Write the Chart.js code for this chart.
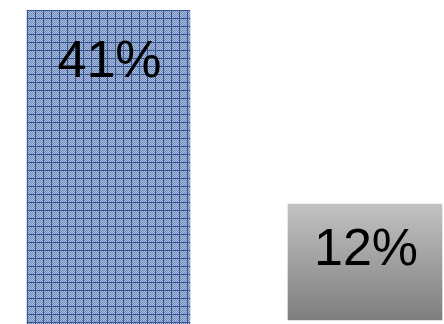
<!DOCTYPE html>
<html>
<head>
<meta charset="utf-8">
<script src="https://cdn.jsdelivr.net/npm/chart.js@4/dist/chart.umd.min.js"></script>
<style>
  html, body { margin: 0; padding: 0; background: #ffffff; }
  #c { display: block; }
</style>
</head>
<body>
<canvas id="c" width="444" height="324"></canvas>
<script>
// ---- data ----
const categories = ['Series 1', 'Series 2'];
const positions = [1, 2];
const shares = [41, 12];
const barBases = [-5.94, -5.34];
const valueLabels = shares.map(v => v + '%');

// ---- blue cross-hatch pattern ----
function makePattern() {
  const p = document.createElement('canvas');
  p.width = 8; p.height = 8;
  const g = p.getContext('2d');
  for (let i = 0; i < 8; i++) {
    for (let j = 0; j < 8; j++) {
      let col;
      if (i === 3 || j === 2) col = '#2f5394';
      else col = ((i + j) % 2) ? '#adbcd8' : '#6f89b8';
      g.fillStyle = col;
      g.fillRect(i, j, 1, 1);
    }
  }
  return g.createPattern(p, 'repeat');
}
const ctx = document.getElementById('c').getContext('2d');
const hatch = makePattern();

function grayGradient(context) {
  const chart = context.chart;
  const ys = chart.scales && chart.scales.y;
  if (!chart.chartArea || !ys) return '#a0a0a0';
  const top = ys.getPixelForValue(shares[1]);
  const bottom = ys.getPixelForValue(barBases[1]);
  const gr = chart.ctx.createLinearGradient(0, top, 0, bottom);
  gr.addColorStop(0, '#c2c2c2');
  gr.addColorStop(1, '#7e7e7e');
  return gr;
}

const labelPlugin = {
  id: 'valueLabels',
  afterDatasetsDraw(chart) {
    const c = chart.ctx;
    const offsets = [67, 61];
    chart.data.datasets.forEach((ds, di) => {
      const meta = chart.getDatasetMeta(di);
      meta.data.forEach(el => {
        c.save();
        c.font = '52px "Liberation Sans", Arial, sans-serif';
        c.fillStyle = '#000000';
        c.textAlign = 'center';
        c.textBaseline = 'alphabetic';
        c.fillText(valueLabels[di], el.x + 1, el.y + offsets[di]);
        c.restore();
      });
    });
  }
};

new Chart(ctx, {
  type: 'bar',
  data: {
    datasets: [
      {
        label: categories[0],
        data: [{ x: positions[0], y: shares[0] }],
        base: barBases[0],
        backgroundColor: hatch,
        borderWidth: 0,
        barThickness: 163,
        grouped: false
      },
      {
        label: categories[1],
        data: [{ x: positions[1], y: shares[1] }],
        base: barBases[1],
        backgroundColor: grayGradient,
        borderWidth: 0,
        barThickness: 154,
        grouped: false
      }
    ]
  },
  options: {
    responsive: false,
    animation: false,
    layout: { padding: { top: 10, left: 0, right: 0, bottom: 0 } },
    plugins: { legend: { display: false }, tooltip: { enabled: false } },
    scales: {
      x: { type: 'linear', display: false, offset: false, min: 0.577, max: 2.308 },
      y: { display: false, min: -5.94, max: 41 }
    }
  },
  plugins: [labelPlugin]
});
</script>
</body>
</html>
